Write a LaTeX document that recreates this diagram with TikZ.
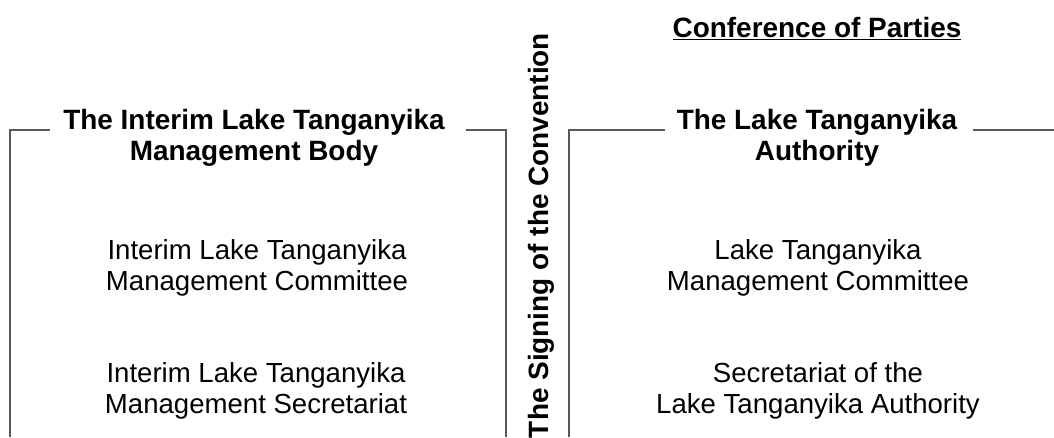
\documentclass[tikz,border=0pt]{standalone}
\usepackage{fontspec}
\setmainfont{Liberation Sans}
\usetikzlibrary{calc}

\begin{document}
\begin{tikzpicture}[x=0.02cm,y=-0.02cm,
	heading/.style={align=center,inner sep=0pt,font=\fontsize{15.9}{17.4}\selectfont\bfseries},
	body/.style={align=center,inner sep=0pt,font=\fontsize{15.7}{17.6}\selectfont},
	rule/.style={draw=black!65,line width=0.7pt}]
	\useasboundingbox (0,0) rectangle (1054,437);
	% headings
	\node (cop) [heading,anchor=base] at (817,37) {\underline{Conference of Parties}};
	\node (interim) [heading] at (254,138) {The Interim Lake Tanganyika\\Management Body};
	\node (lta) [heading] at (817,138) {The Lake Tanganyika\\Authority};
	\node (signing) [heading,rotate=90] at (541,235.5) {The Signing of the Convention};
	% bodies
	\node (ilmc) [body] at (257,267.5) {Interim Lake Tanganyika\\Management Committee};
	\node (ilms) [body] at (256,391) {Interim Lake Tanganyika\\Management Secretariat};
	\node (ltmc) [body] at (818,267.5) {Lake Tanganyika\\Management Committee};
	\node (ltas) [body] at (818,391) {Secretariat of the\\Lake Tanganyika Authority};
	% brackets
	\coordinate (lbot) at (10,437);
	\coordinate (ltop) at (10,130);
	\coordinate (lend) at (50,130);
	\coordinate (mlstart) at (466,130);
	\coordinate (mltop) at (506,130);
	\coordinate (mlbot) at (506,437);
	\coordinate (mrbot) at (569,437);
	\coordinate (mrtop) at (569,130);
	\coordinate (mrend) at (665,130);
	\coordinate (rstart) at (973,130);
	\coordinate (rend) at (1054,130);
	\draw[rule] (lbot) -- (ltop) -- (lend);
	\draw[rule] (mlstart) -- (mltop) -- (mlbot);
	\draw[rule] (mrbot) -- (mrtop) -- (mrend);
	\draw[rule] (rstart) -- (rend);
\end{tikzpicture}
\end{document}
